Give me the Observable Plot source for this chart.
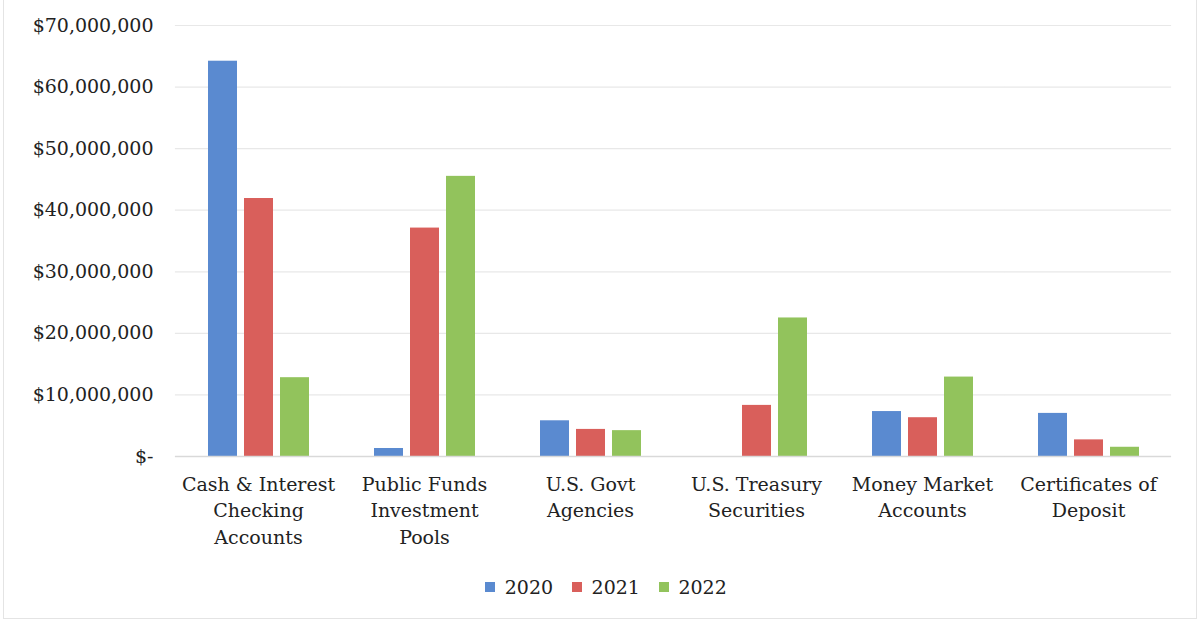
<!DOCTYPE html>
<html>
<head>
<meta charset="utf-8">
<script src="https://cdn.jsdelivr.net/npm/d3@7"></script>
<script src="https://cdn.jsdelivr.net/npm/@observablehq/plot@0.6"></script>
<style>
  html, body { margin: 0; padding: 0; background: #fff; }
  #wrap { position: relative; width: 1201px; height: 623px; overflow: hidden; }
  #frame { position: absolute; left: 3px; top: -2px; width: 1194px; height: 621px; border: 1px solid #e4e4e4; box-sizing: border-box; pointer-events: none; }
  #legend { position: absolute; left: 15px; top: 570px; width: 1201px; display: flex; justify-content: center; }
  #legend, #legend * { font-family: 'DejaVu Serif', serif !important; font-size: 19px !important; color: #222; }
</style>
</head>
<body>
<div id="wrap">
  <div id="chart"></div>
  <div id="legend"></div>
  <div id="frame"></div>
</div>
<script>
const categories = [
  "Cash & Interest Checking Accounts",
  "Public Funds Investment Pools",
  "U.S. Govt Agencies",
  "U.S. Treasury Securities",
  "Money Market Accounts",
  "Certificates of Deposit"
];
const categoryLabels = [
  "Cash & Interest\nChecking\nAccounts",
  "Public Funds\nInvestment\nPools",
  "U.S. Govt\nAgencies",
  "U.S. Treasury\nSecurities",
  "Money Market\nAccounts",
  "Certificates of\nDeposit"
];
const years = ["2020", "2021", "2022"];
const values2020 = [64200000, 1300000, 5800000, 0, 7300000, 7000000];
const values2021 = [41900000, 37100000, 4400000, 8300000, 6300000, 2700000];
const values2022 = [12800000, 45500000, 4200000, 22500000, 12900000, 1500000];
const yTicks = [0, 10000000, 20000000, 30000000, 40000000, 50000000, 60000000, 70000000];
const colors = ["#5a8ad0", "#d95f5b", "#92c35c"];

const series = [values2020, values2021, values2022];
const data = [];
categories.forEach((c, i) => {
  years.forEach((y, j) => data.push({category: c, year: y, value: series[j][i]}));
});
const labelOf = new Map(categories.map((c, i) => [c, categoryLabels[i]]));

const font = "'DejaVu Serif', serif";
const gapHalf = -25.1;

const chart = Plot.plot({
  width: 1201,
  height: 565,
  marginTop: 25,
  marginBottom: 109,
  marginLeft: 174,
  marginRight: 28,
  style: {fontFamily: font, fontSize: "19px", color: "#222", background: "#fff"},
  fx: {domain: categories, paddingInner: 0.3, paddingOuter: 0.15, label: null},
  x: {domain: years, paddingInner: 0.2, paddingOuter: 0.2, axis: null},
  y: {domain: [0, 70000000], ticks: yTicks, label: null},
  color: {domain: years, range: colors},
  marks: [
    Plot.ruleY(yTicks.slice(1), {stroke: "#e8e8e8", strokeWidth: 1.2, insetLeft: gapHalf, insetRight: gapHalf}),
    Plot.barY(data, {fx: "category", x: "year", y: "value", fill: "year"}),
    Plot.ruleY([0], {stroke: "#d9d9d9", strokeWidth: 1.5, insetLeft: gapHalf, insetRight: gapHalf}),
    Plot.axisY(yTicks, {
      tickSize: 0, tickPadding: 47,
      tickFormat: d => d === 0 ? "$-" : "$" + d3.format(",")(d),
      fontSize: 19, fill: "#222"
    }),
    Plot.axisFx({
      anchor: "bottom", tickSize: 0, tickPadding: 16,
      tickFormat: d => labelOf.get(d), lineHeight: 1.38,
      fontSize: 19, fill: "#222", label: null
    })
  ]
});
document.getElementById("chart").appendChild(chart);

const legend = Plot.legend({
  color: {domain: years, range: colors},
  swatchSize: 10
});
document.getElementById("legend").appendChild(legend);
</script>
</body>
</html>
